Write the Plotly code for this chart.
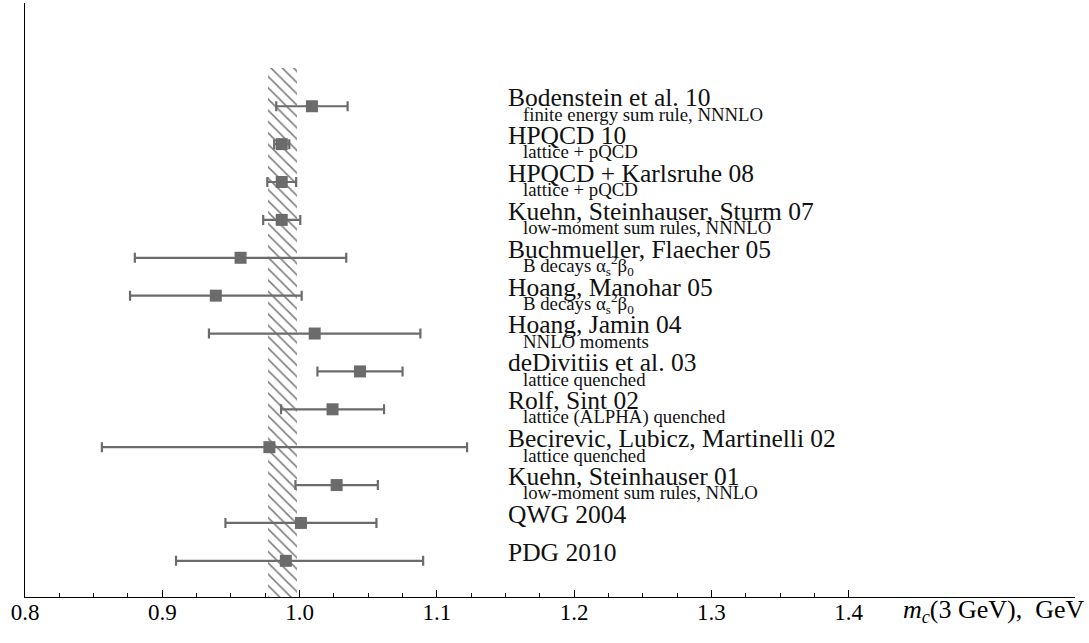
import plotly.graph_objects as go

# ---- data ----
labels = ["Bodenstein et al. 10", "HPQCD 10", "HPQCD + Karlsruhe 08",
          "Kuehn, Steinhauser, Sturm 07", "Buchmueller, Flaecher 05",
          "Hoang, Manohar 05", "Hoang, Jamin 04", "deDivitiis et al. 03",
          "Rolf, Sint 02", "Becirevic, Lubicz, Martinelli 02",
          "Kuehn, Steinhauser 01", "QWG 2004", "PDG 2010"]
sublabels = ["finite energy sum rule, NNNLO", "lattice + pQCD", "lattice + pQCD",
             "low-moment sum rules, NNNLO",
             "B decays α<sub>s</sub><sup>2</sup>β<sub>0</sub>",
             "B decays α<sub>s</sub><sup>2</sup>β<sub>0</sub>",
             "NNLO moments", "lattice quenched", "lattice (ALPHA) quenched",
             "lattice quenched", "low-moment sum rules, NNLO", "", ""]
values = [1.009, 0.987, 0.987, 0.987, 0.957, 0.939, 1.011, 1.044, 1.024,
          0.978, 1.027, 1.001, 0.990]
err_minus = [0.026, 0.0055, 0.0105, 0.0135, 0.077, 0.0625, 0.077, 0.031,
             0.0375, 0.122, 0.030, 0.055, 0.080]
err_plus = [0.026, 0.0055, 0.0105, 0.0135, 0.077, 0.0625, 0.077, 0.031,
            0.0375, 0.144, 0.030, 0.055, 0.100]
rows = list(range(len(labels)))

band_center = 0.9876
band_width = 0.0212
band_top = -1.0
band_bottom = 12.955

tick_vals = [0.8, 0.9, 1.0, 1.1, 1.2, 1.3, 1.4]
tick_text = ["0.8", "0.9", "1.0", "1.1", "1.2", "1.3", "1.4"]
minor_vals = [0.825, 0.85, 0.875, 0.925, 0.95, 0.975, 1.025, 1.05, 1.075,
              1.125, 1.15, 1.175, 1.225, 1.25, 1.275, 1.325, 1.35, 1.375]

label_x = 1.1500
sublabel_x = 1.1610

SERIF = "Liberation Serif"
GRAY = "#6b6b6b"
MAIN_SIZE = 25.5
SUB_SIZE = 18.8

fig = go.Figure()

# hatched band
fig.add_trace(go.Bar(
    x=[band_center], y=[band_bottom - band_top], base=[band_top],
    width=[band_width], orientation="v",
    marker=dict(color="white", line=dict(width=0),
                pattern=dict(shape="\\", fgcolor="black", bgcolor="white",
                             size=8, solidity=0.2)),
    showlegend=False, hoverinfo="skip"))

# measurements
fig.add_trace(go.Scatter(
    x=values, y=rows, mode="markers",
    marker=dict(symbol="square", size=12, color=GRAY),
    error_x=dict(type="data", symmetric=False, array=err_plus,
                 arrayminus=err_minus, color=GRAY, thickness=2.2, width=5),
    showlegend=False))

for r, lab, sub in zip(rows, labels, sublabels):
    fig.add_annotation(x=label_x, y=r, xref="x", yref="y", text=lab,
                       showarrow=False, xanchor="left", yanchor="middle",
                       yshift=0.3375 * MAIN_SIZE,
                       font=dict(family=SERIF, size=MAIN_SIZE, color="#111"))
    if sub:
        fig.add_annotation(x=sublabel_x, y=r, xref="x", yref="y", text=sub,
                           showarrow=False, xanchor="left", yanchor="middle",
                           yshift=-(14.2 - 0.3375 * SUB_SIZE),
                           font=dict(family=SERIF, size=SUB_SIZE, color="#111"))

fig.add_annotation(x=1.0, y=-0.0235, xref="paper", yref="paper",
                   xshift=12,
                   text="<i>m</i><sub><i>c</i></sub>(3 GeV),&nbsp; GeV",
                   showarrow=False, xanchor="right", yanchor="middle",
                   font=dict(family=SERIF, size=26, color="black"))

fig.update_layout(
    width=1089, height=643,
    margin=dict(l=25, r=14, t=3, b=46, autoexpand=False),
    paper_bgcolor="white", plot_bgcolor="white",
    bargap=0,
    xaxis=dict(range=[0.8, 1.5648], showgrid=False, zeroline=False,
               automargin=False,
               showline=True, linecolor="black", linewidth=1.3,
               tickmode="array", tickvals=tick_vals, ticktext=tick_text,
               ticks="inside", ticklen=7, tickcolor="black", tickwidth=1,
               ticklabelstandoff=-6,
               tickfont=dict(family=SERIF, size=23, color="black"),
               minor=dict(tickmode="array", tickvals=minor_vals, ticks="inside",
                          ticklen=4, tickcolor="black", tickwidth=1)),
    yaxis=dict(range=[12.955, -2.726], showgrid=False, zeroline=False,
               automargin=False,
               showline=True, linecolor="black", linewidth=1.3,
               showticklabels=False, ticks=""),
)

fig.write_html("out.html", config={"displayModeBar": False},
               post_script="document.body.style.margin='0px';"
                           "document.body.style.overflow='hidden';")
